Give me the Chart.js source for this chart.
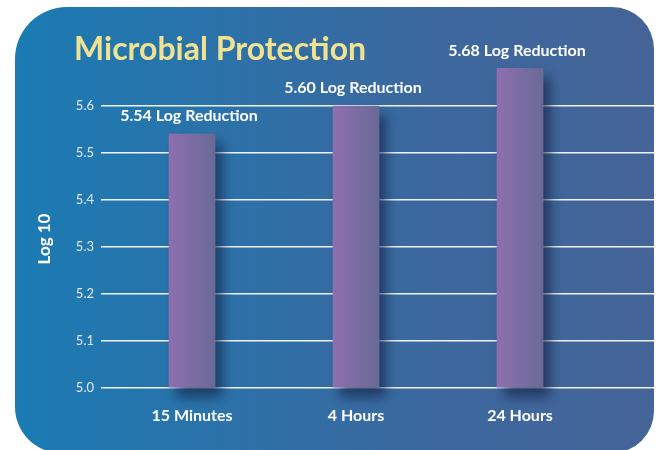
<!DOCTYPE html>
<html>
<head>
<meta charset="utf-8">
<script src="https://cdn.jsdelivr.net/npm/chart.js@4"></script>
<style>
  html, body { margin: 0; padding: 0; background: #ffffff; }
  #wrap { width: 658px; height: 450px; }
</style>
</head>
<body>
<div id="wrap"><canvas id="c" width="658" height="450"></canvas></div>
<script>
const chartTitle = "Microbial Protection";
const categories = ["15 Minutes", "4 Hours", "24 Hours"];
const logValues = [5.54, 5.60, 5.68];
const yTicks = [5.0, 5.1, 5.2, 5.3, 5.4, 5.5, 5.6];
const yTitle = "Log 10";
const labelSuffix = " Log Reduction";

const panelPlugin = {
  id: 'panel',
  beforeDraw(chart) {
    const ctx = chart.ctx;
    ctx.save();
    const x0 = 15, y0 = 7, x1 = 654, y1 = 453;
    const g = ctx.createLinearGradient(x0, 0, x1, 0);
    g.addColorStop(0, 'rgb(27,123,179)');
    g.addColorStop(0.65, 'rgb(60,104,158)');
    g.addColorStop(1, 'rgb(69,100,152)');
    ctx.fillStyle = g;
    ctx.beginPath();
    ctx.roundRect(x0, y0, x1 - x0, y1 - y0, [52, 42, 42, 46]);
    ctx.fill();
    ctx.fillStyle = '#efe391';
    ctx.font = 'bold 32px Lato';
    ctx.textAlign = 'left';
    ctx.textBaseline = 'alphabetic';
    ctx.fillText(chartTitle, 74, 60);
    // y axis title, centred on the labelled tick range
    const ys = chart.scales.y;
    const cy = (ys.getPixelForValue(yTicks[0]) + ys.getPixelForValue(yTicks[yTicks.length - 1])) / 2 - 8;
    ctx.translate(45, cy);
    ctx.rotate(-Math.PI / 2);
    ctx.fillStyle = '#ffffff';
    ctx.font = 'bold 17px Lato';
    ctx.textAlign = 'center';
    ctx.textBaseline = 'middle';
    ctx.fillText(yTitle, 0, 0);
    ctx.restore();
  }
};

const shadowPlugin = {
  id: 'barShadow',
  beforeDatasetDraw(chart) {
    const ctx = chart.ctx;
    ctx.save();
    ctx.shadowColor = 'rgba(20,35,70,0.7)';
    ctx.shadowBlur = 12;
    ctx.shadowOffsetX = 7;
    ctx.shadowOffsetY = 9;
  },
  afterDatasetDraw(chart) {
    chart.ctx.restore();
  }
};

const valueLabelPlugin = {
  id: 'valueLabels',
  afterDatasetsDraw(chart) {
    const ctx = chart.ctx;
    const meta = chart.getDatasetMeta(0);
    ctx.save();
    ctx.fillStyle = '#ffffff';
    ctx.font = 'bold 16px Lato';
    ctx.textAlign = 'center';
    ctx.textBaseline = 'middle';
    meta.data.forEach((el, i) => {
      ctx.fillText(logValues[i].toFixed(2) + labelSuffix, el.x - 3, el.y - 18);
    });
    ctx.restore();
  }
};

new Chart(document.getElementById('c'), {
  type: 'bar',
  data: {
    datasets: [{
      data: logValues.map((v, i) => ({ x: i, y: v })),
      base: yTicks[0],
      barThickness: 46,
      clip: false,
      borderWidth: 0,
      backgroundColor(context) {
        const chart = context.chart;
        const xs = chart.scales.x;
        if (!xs || context.dataIndex === undefined) return '#7d6da4';
        const cx = xs.getPixelForValue(context.dataIndex);
        if (!Number.isFinite(cx)) return '#7d6da4';
        const g = chart.ctx.createLinearGradient(cx - 23, 0, cx + 23, 0);
        g.addColorStop(0, '#8e6faf');
        g.addColorStop(1, '#696a96');
        return g;
      }
    }]
  },
  options: {
    responsive: false,
    devicePixelRatio: 1,
    animation: false,
    layout: { padding: { top: 35.5, right: 4, bottom: 0, left: 0 } },
    plugins: {
      legend: { display: false },
      tooltip: { enabled: false },
      title: { display: false }
    },
    scales: {
      x: {
        type: 'linear',
        min: -0.555,
        max: 2.817,
        offset: false,
        grid: { display: false, drawTicks: false, offset: false },
        border: { display: false },
        afterBuildTicks(scale) { scale.ticks = categories.map((c, i) => ({ value: i })); },
        afterFit(scale) { scale.height = 62; },
        ticks: {
          padding: 18,
          color: '#ffffff',
          font: { family: 'Lato', size: 16, weight: 'bold' },
          callback: (v) => categories[v]
        }
      },
      y: {
        min: 5.0,
        max: 5.75,
        grid: { color: 'rgba(255,255,255,0.92)', lineWidth: 1.5, drawTicks: false },
        border: { display: false },
        afterBuildTicks(scale) { scale.ticks = yTicks.map(v => ({ value: v })); },
        afterFit(scale) { scale.width = 101; },
        title: { display: false },
        ticks: {
          padding: 7,
          color: '#e4e8f0',
          font: { family: 'Lato', size: 13 },
          callback: (v) => Number(v).toFixed(1)
        }
      }
    }
  },
  plugins: [panelPlugin, shadowPlugin, valueLabelPlugin]
});
</script>
</body>
</html>
